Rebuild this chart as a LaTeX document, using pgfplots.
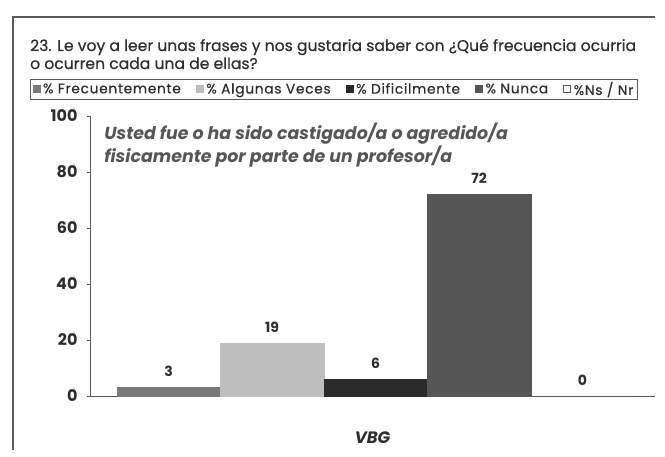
\documentclass[border=0pt]{standalone}
\usepackage{fontspec}
\setmainfont{Poppins}
\newfontfamily\semib[FakeBold=0.5]{Poppins}
\newfontfamily\legfont[FakeBold=0.4,LetterSpace=5]{Poppins}
\usepackage{pgfplots}
\pgfplotsset{compat=1.18}

\definecolor{frec}{HTML}{7A7A7A}
\definecolor{alg}{HTML}{BEBEBE}
\definecolor{dif}{HTML}{2A2A2A}
\definecolor{nun}{HTML}{565656}
\definecolor{txt}{HTML}{2E2E2E}
\definecolor{frame}{HTML}{5A5A5A}

\begin{document}
\begin{tikzpicture}[x=1pt,y=1pt]
\useasboundingbox (0,0) rectangle (665,456);
% marco de la hoja
\draw[frame, line width=1.2pt] (13,6) -- (13,439) -- (655,439);

\node[anchor=base west, align=left, font=\fontsize{15.6}{18}\semib, text=txt, inner sep=0pt]
  at (30,456-69) {23. Le voy a leer unas frases y nos gustaria saber con ¿Qué frecuencia ocurria\\o ocurren cada una de ellas?};

\begin{axis}[
    at={(90pt,60pt)}, anchor=south west,
    scale only axis, width=565pt, height=280pt,
    ybar, bar width=1, bar shift=0pt,
    xmin=0.24, xmax=5.70, ymin=0, ymax=100,
    axis lines*=left,
    axis line style={frame, line width=0.8pt},
    xtick=\empty,
    ytick={0,20,40,60,80,100},
    tick align=outside, major tick length=3pt,
    tick style={frame, line width=0.5pt},
    /pgf/number format/assume math mode=true,
    yticklabel style={font=\fontsize{16}{17}\selectfont\bfseries, text=txt, xshift=-6pt},
    xlabel={\itshape\bfseries VBG},
    xlabel style={at={(0.5,-0.15)}, anchor=center, font=\fontsize{16.5}{17}\selectfont, text=txt},
    nodes near coords,
    every node near coord/.append style={font=\fontsize{14}{15}\selectfont\bfseries, text=txt, yshift=7pt},
    legend columns=5,
    legend style={at={(-0.106,1.132)}, anchor=north west, draw=frame, line width=0.8pt,
        font=\fontsize{13.8}{14}\legfont, text=txt, inner ysep=0.5pt, inner xsep=2pt,
        /tikz/every odd column/.append style={column sep=1pt},
        /tikz/every even column/.append style={column sep=13pt}},
    legend cell align=left,
    legend image code/.code={\draw[#1, line width=0.5pt] (0pt,-3.5pt) rectangle (7pt,3.5pt);},
]
\addplot[fill=frec, draw=frec] coordinates {(1,3)};
\addplot[fill=alg, draw=alg] coordinates {(2,19)};
\addplot[fill=dif, draw=dif] coordinates {(3,6)};
\addplot[fill=nun, draw=nun] coordinates {(4,72)};
\addplot[fill=white, draw=frame] coordinates {(5,0)};
\legend{\% Frecuentemente, \% Algunas Veces, \% Dificilmente, \% Nunca, \%Ns / Nr}
\node[anchor=north west, align=left, inner sep=0pt, font=\fontsize{17.4}{21}\selectfont\itshape\bfseries, text=nun]
  at (rel axis cs:0.025,0.975) {Usted fue o ha sido castigado/a o agredido/a\\fisicamente por parte de un profesor/a};
\end{axis}
\end{tikzpicture}
\end{document}
